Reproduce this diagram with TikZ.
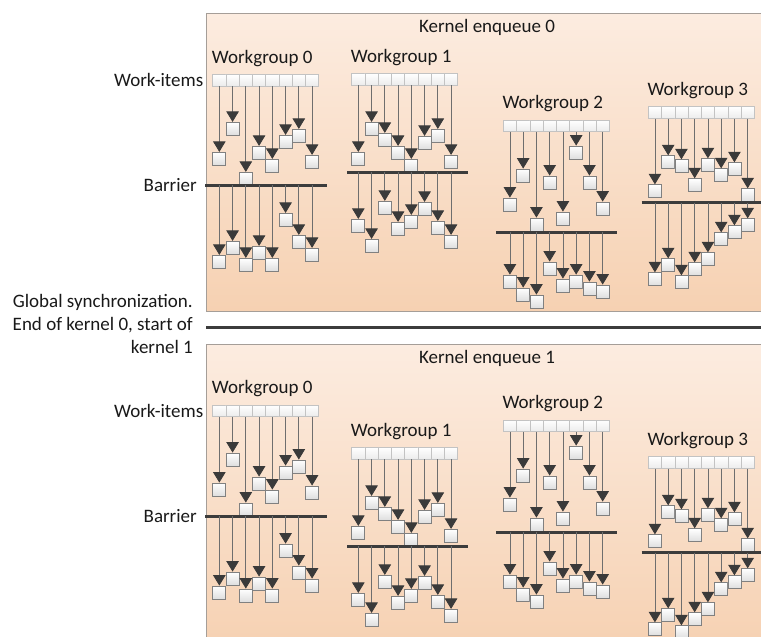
\documentclass[tikz,border=0pt]{standalone}
\usepackage{fontspec}
\setmainfont{Carlito}
\usetikzlibrary{arrows.meta,positioning}

\definecolor{panellight}{RGB}{252,236,224}
\definecolor{paneldark}{RGB}{246,209,178}
\definecolor{panelline}{RGB}{165,158,152}
\definecolor{cellline}{RGB}{195,195,195}
\definecolor{itemline}{RGB}{128,128,128}
\definecolor{itemshade}{RGB}{222,222,222}
\definecolor{flowgray}{RGB}{110,110,110}
\definecolor{tipgray}{RGB}{58,58,58}
\definecolor{bargray}{RGB}{60,60,60}
\tikzset{panel/.style={draw=panelline, line width=0.8pt, top color=panellight, bottom color=paneldark}}
\tikzset{cell/.style={draw=cellline, line width=0.6pt, top color=white, bottom color=gray!15, minimum width=13.25pt, minimum height=11.5pt, inner sep=0pt}}
\tikzset{item/.style={draw=itemline, line width=0.8pt, top color=white, bottom color=itemshade, minimum size=13pt, inner sep=0pt}}
\tikzset{flow/.style={line width=0.8pt, color=flowgray, -{Triangle[width=12.5pt, length=10.5pt, color=tipgray, fill=tipgray]}}}
\tikzset{barrier/.style={line width=3pt, color=bargray}}
\tikzset{txt/.style={font=\fontsize{19}{23}\selectfont, text=black!90, inner sep=0pt}}

% #1 prefix, #2 number, #3 x0, #4 y0, #5 barrier, #6/#7 barrier ends, #8 before, #9 after
\newcommand{\workgroup}[9]{%
    \node[txt, anchor=west] (#1-lbl) at (#3-1, #4-16) {Workgroup #2};
    \foreach \off [count=\i] in {#8} {
        \node[cell] (#1-c\i) at ({#3+(\i-0.5)*13.25}, #4+5.75) {};
        \node[item] (#1-a\i) at ({#3+(\i-0.5)*13.25}, #4+\off+6.5) {};
        \draw [flow] (#1-c\i) -- (#1-a\i);
    }
    \coordinate (#1-bl) at ({#3+(#6)}, #4+#5);
    \coordinate (#1-br) at ({#3+(#7)}, #4+#5);
    \draw [barrier] (#1-bl) -- (#1-br);
    \foreach \off [count=\i] in {#9} {
        \coordinate (#1-t\i) at ({#3+(\i-0.5)*13.25}, #4+#5);
        \node[item] (#1-b\i) at ({#3+(\i-0.5)*13.25}, #4+\off+6.5) {};
        \draw [flow] (#1-t\i) -- (#1-b\i);
    }
}

\begin{document}
\begin{tikzpicture}[x=1pt, y=-1pt]%{{{
        \useasboundingbox (0,0) rectangle (761,637);
        \draw [panel] (206,13) rectangle (770,311);
        \draw [panel] (206,344) rectangle (770,650);
        \node[txt] (K0) at (487,27) {Kernel enqueue 0};
        \node[txt] (K1) at (487,358) {Kernel enqueue 1};

        % kernel 0
        \workgroup{A0}{0}{212.7}{74.3}{111}{-7.7}{114}{78,48,98,72,85,61,55,81}{181,167,184,172,184,139,161,174}
        \workgroup{A1}{1}{351.7}{73.3}{99}{-4.4}{116.6}{79,49,60,73,86,63,56,82}{146,166,128,149,142,129,148,162}
        \workgroup{A2}{2}{503.3}{120}{112}{-7.3}{114}{78,49,98,56,92,26,56,82}{155,168,175,142,159,155,162,165}
        \workgroup{A3}{3}{648.3}{106.7}{96}{-6.6}{113}{78,49,53,72,52,62,56,82}{166,152,169,156,146,126,119,112}

        % kernel 1
        \workgroup{B0}{0}{212.7}{405}{111}{-7.7}{114}{78,48,98,72,85,61,55,81}{181,167,184,172,184,139,161,174}
        \workgroup{B1}{1}{351.7}{447.3}{99}{-4.4}{116.6}{79,49,60,73,86,63,56,82}{146,166,128,149,142,129,148,162}
        \workgroup{B2}{2}{503.3}{420}{112}{-7.3}{114}{78,49,98,56,92,26,56,82}{155,168,175,142,159,155,162,165}
        \workgroup{B3}{3}{648.3}{456.7}{96}{-6.6}{113}{78,49,53,72,52,62,56,82}{166,152,169,156,146,126,119,112}

        \node[txt, left=9pt of A0-c1] (wi0) {Work-items};
        \node[txt, left=8pt of A0-bl] (bar0) {Barrier};
        \node[txt, left=9pt of B0-c1] (wi1) {Work-items};
        \node[txt, left=8pt of B0-bl] (bar1) {Barrier};

        \coordinate (G0) at (206,327.7);
        \coordinate (G1) at (761,327.7);
        \draw [barrier] (G0) -- (G1);
        \node[txt, align=right, anchor=east] (sync) at (193,324) {Global synchronization.\\End of kernel 0, start of\\kernel 1};
\end{tikzpicture}
\end{document}
